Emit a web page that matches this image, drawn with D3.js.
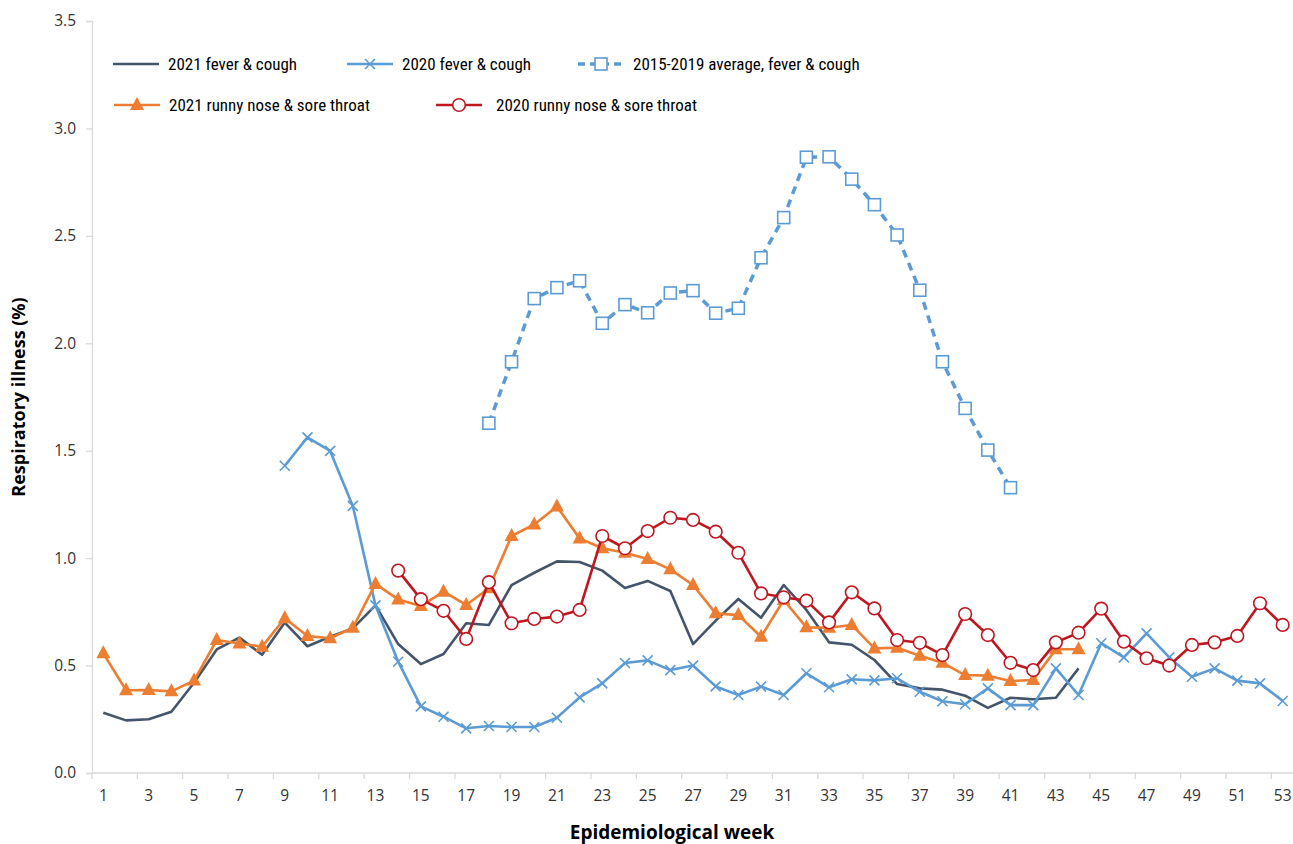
<!DOCTYPE html>
<html>
<head>
<meta charset="utf-8">
<title>Respiratory illness</title>
<script src="https://cdnjs.cloudflare.com/ajax/libs/d3/7.8.5/d3.min.js"></script>
<style>
  body { margin: 0; background: #fff; }
  .tick text { font-family: "Open Sans", sans-serif; font-size: 15.5px; fill: #333; }
  .lbl { font-family: "Liberation Sans Narrow", "Roboto Condensed", "Open Sans", sans-serif; font-size: 17px; fill: #000; }
  .ttl { font-family: "Liberation Sans Narrow", "Open Sans", sans-serif; font-size: 18px; font-weight: bold; fill: #000; }
</style>
</head>
<body>
<svg id="chart" width="1293" height="844"></svg>
<script>
// weeks 1..53
var weeks = d3.range(1, 54);
var yTicks = [0, 0.5, 1, 1.5, 2, 2.5, 3, 3.5];

// 2021 fever & cough, weeks 1-44
var fever2021 = [0.28, 0.245, 0.25, 0.285, 0.42, 0.575, 0.63, 0.55, 0.70, 0.59, 0.634, 0.673,
  0.78, 0.60, 0.507, 0.554, 0.697, 0.689, 0.874, 0.932, 0.985, 0.982, 0.942, 0.861, 0.894,
  0.847, 0.60, 0.709, 0.81, 0.723, 0.875, 0.759, 0.608, 0.597, 0.526, 0.414, 0.394, 0.388,
  0.36, 0.303, 0.35, 0.343, 0.35, 0.487];

// 2020 fever & cough, weeks 9-53
var fever2020 = [1.43, 1.562, 1.499, 1.243, 0.78, 0.518, 0.31, 0.262, 0.208, 0.219, 0.214,
  0.214, 0.257, 0.352, 0.417, 0.512, 0.524, 0.479, 0.50, 0.403, 0.363, 0.402, 0.363, 0.464,
  0.399, 0.436, 0.431, 0.441, 0.378, 0.334, 0.32, 0.394, 0.316, 0.316, 0.487, 0.363, 0.604,
  0.538, 0.65, 0.538, 0.448, 0.487, 0.43, 0.417, 0.335];

// 2015-2019 average fever & cough, weeks 18-41
var feverAvg = [1.628, 1.914, 2.208, 2.259, 2.291, 2.093, 2.18, 2.142, 2.234, 2.245, 2.14,
  2.163, 2.398, 2.585, 2.866, 2.868, 2.764, 2.645, 2.504, 2.247, 1.914, 1.697, 1.503, 1.328];

// 2021 runny nose & sore throat, weeks 1-44
var nose2021 = [0.557, 0.385, 0.386, 0.38, 0.43, 0.619, 0.603, 0.588, 0.72, 0.638, 0.627,
  0.676, 0.88, 0.808, 0.777, 0.844, 0.782, 0.86, 1.103, 1.157, 1.24, 1.092, 1.046, 1.025,
  0.996, 0.948, 0.875, 0.743, 0.735, 0.634, 0.805, 0.678, 0.676, 0.689, 0.58, 0.583, 0.546,
  0.513, 0.456, 0.453, 0.428, 0.433, 0.576, 0.576];

// 2020 runny nose & sore throat, weeks 14-53
var nose2020 = [0.942, 0.809, 0.755, 0.624, 0.888, 0.697, 0.717, 0.728, 0.759, 1.103, 1.046,
  1.126, 1.188, 1.178, 1.123, 1.025, 0.836, 0.818, 0.802, 0.701, 0.841, 0.766, 0.619, 0.606,
  0.549, 0.74, 0.642, 0.513, 0.479, 0.608, 0.653, 0.765, 0.611, 0.534, 0.50, 0.596, 0.608,
  0.638, 0.79, 0.689];

function toPts(vals, start) {
  return vals.map(function(v, i){ return {w: start + i, v: v}; });
}

var series = [
  {name: "2021 fever & cough", data: toPts(fever2021, 1), color: "#44546a", marker: "none", width: 2.6},
  {name: "2020 fever & cough", data: toPts(fever2020, 9), color: "#5b9bd5", marker: "x", width: 2.6},
  {name: "2015-2019 average, fever & cough", data: toPts(feverAvg, 18), color: "#5b9bd5", marker: "square", width: 3.5, dash: "8,6"},
  {name: "2021 runny nose & sore throat", data: toPts(nose2021, 1), color: "#ed7d31", marker: "triangle", width: 2.6},
  {name: "2020 runny nose & sore throat", data: toPts(nose2020, 14), color: "#c0161f", marker: "circle", width: 2.6}
];

var svg = d3.select("#chart");
var mLeft = 92, mRight = 1294, mTop = 21, mBottom = 773;

var x = d3.scaleBand().domain(weeks).range([mLeft, mRight]).padding(0);
var y = d3.scaleLinear().domain([0, 3.5]).range([mBottom, mTop]);
function cx(w){ return x(w) + x.bandwidth() / 2; }

// y axis
var yAxis = svg.append("g").attr("transform", "translate(" + mLeft + ",0)")
  .call(d3.axisLeft(y).tickValues(yTicks).tickFormat(d3.format(".1f")).tickSize(6).tickPadding(10));
yAxis.select(".domain").attr("stroke", "#d9d9d9").attr("stroke-width", 1.3);
yAxis.selectAll(".tick line").attr("stroke", "#d9d9d9").attr("stroke-width", 1.3);

// x axis: ticks at band edges every 2 weeks, labels on odd weeks
var xg = svg.append("g").attr("transform", "translate(0," + mBottom + ")");
xg.append("line").attr("x1", mLeft).attr("x2", mRight).attr("stroke", "#d9d9d9").attr("stroke-width", 1.3);
var oddWeeks = weeks.filter(function(w){ return w % 2 === 1; });
xg.selectAll(".xt").data(oddWeeks.concat([54])).enter().append("line")
  .attr("x1", function(w){ return w === 54 ? mRight : x(w); })
  .attr("x2", function(w){ return w === 54 ? mRight : x(w); })
  .attr("y1", 0).attr("y2", 6).attr("stroke", "#d9d9d9").attr("stroke-width", 1.3);
xg.selectAll(".xl").data(oddWeeks).enter().append("text")
  .attr("class", "xl")
  .attr("x", cx).attr("y", 28)
  .attr("text-anchor", "middle")
  .style("font-family", "'Open Sans', sans-serif").style("font-size", "15.5px").style("fill", "#333")
  .text(function(w){ return w; });

// axis titles
svg.append("text").attr("class", "ttl")
  .attr("x", 672).attr("y", 839).attr("text-anchor", "middle")
  .style("font-size", "19px")
  .text("Epidemiological week");
svg.append("text").attr("class", "ttl")
  .attr("transform", "translate(25,397) rotate(-90)").attr("text-anchor", "middle")
  .text("Respiratory illness (%)");

function drawMarker(g, type, color) {
  if (type === "x") {
    g.append("path").attr("d", "M-5,-5L5,5M-5,5L5,-5")
      .attr("stroke", color).attr("stroke-width", 1.6).attr("fill", "none");
  } else if (type === "square") {
    g.append("rect").attr("x", -6).attr("y", -6).attr("width", 12).attr("height", 12)
      .attr("fill", "#fff").attr("stroke", color).attr("stroke-width", 1.6);
  } else if (type === "triangle") {
    g.append("path").attr("d", "M0,-8L7,5L-7,5Z").attr("fill", color);
  } else if (type === "circle") {
    g.append("circle").attr("r", 6.3).attr("fill", "#fff")
      .attr("stroke", color).attr("stroke-width", 1.6);
  }
}

var line = d3.line().x(function(d){ return cx(d.w); }).y(function(d){ return y(d.v); });

series.forEach(function(s) {
  svg.append("path").datum(s.data)
    .attr("d", line)
    .attr("fill", "none")
    .attr("stroke", s.color)
    .attr("stroke-width", s.width)
    .attr("stroke-linejoin", "round")
    .attr("stroke-dasharray", s.dash || null);
  if (s.marker !== "none") {
    svg.append("g").selectAll("g").data(s.data).enter().append("g")
      .attr("transform", function(d){ return "translate(" + cx(d.w) + "," + y(d.v) + ")"; })
      .each(function(){ drawMarker(d3.select(this), s.marker, s.color); });
  }
});

// legend
var legendPos = [
  {x: 113, y: 64}, {x: 347, y: 64}, {x: 578, y: 64},
  {x: 114, y: 105}, {x: 436, y: 105}
];
series.forEach(function(s, i) {
  var p = legendPos[i];
  var g = svg.append("g").attr("transform", "translate(" + p.x + "," + p.y + ")");
  g.append("line").attr("x1", 0).attr("x2", 46).attr("y1", 0).attr("y2", 0)
    .attr("stroke", s.color).attr("stroke-width", s.width)
    .attr("stroke-dasharray", s.dash ? "7,5" : null);
  if (s.marker !== "none") {
    var m = g.append("g").attr("transform", "translate(23,0)");
    drawMarker(m, s.marker, s.color);
  }
  g.append("text").attr("class", "lbl")
    .attr("x", i === 4 ? 60 : 55).attr("y", 6)
    .text(s.name);
});
</script>
</body>
</html>
